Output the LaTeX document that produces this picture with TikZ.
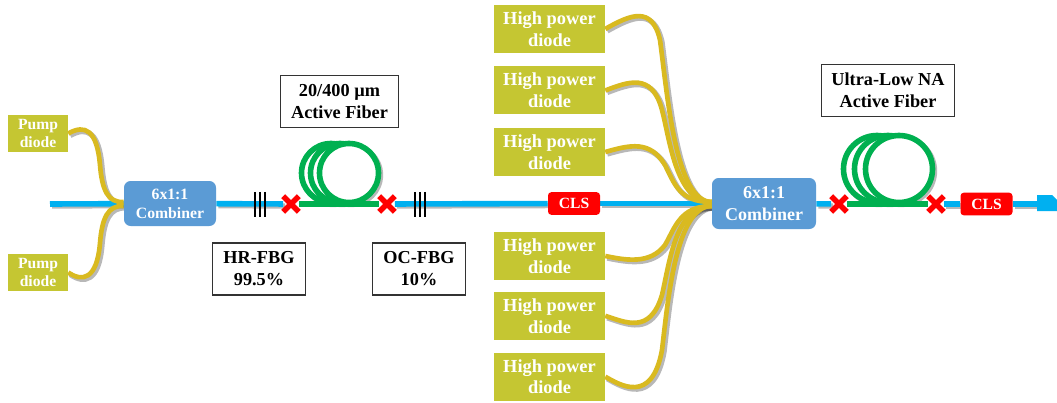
\documentclass[tikz,border=0pt]{standalone}
\usepackage{fontspec}
\setmainfont{Liberation Serif}
\usetikzlibrary{backgrounds, positioning, shapes.misc}

\definecolor{diodecol}{HTML}{C5C632}
\definecolor{combcol}{HTML}{5B9BD5}
\definecolor{fibercol}{HTML}{00B0F0}
\definecolor{pumpcol}{HTML}{D9BA20}
\definecolor{coilcol}{HTML}{00B050}

\newcommand{\strands}{
  \draw[fiber] (fibin) -- (combA);
  \draw[fiber] (combA) -- (spA);
  \draw[fiber] (spB)   -- (clsA);
  \draw[fiber] (clsA)  -- (combB);
  \draw[fiber] (combB) -- (spC);
  \draw[fiber] (spD)   -- (clsB);
  \draw[fiber] (clsB)  -- (fibout);

  \foreach \cx in {331,340,349}
    \draw[coil] (\cx,173) circle (29.5);
  \foreach \cx in {877,888,899}
    \draw[coil] (\cx,169) circle (33.5);

  \draw[pumpline] (pumpA.east) .. controls (85,124) and (97,130) .. (100,165) .. controls (102,190) and (108,203) .. (mergeAup);
  \draw[pumpline] (pumpB.east) .. controls (82,282) and (97,280) .. (100,243) .. controls (102,218) and (108,205) .. (mergeAlow);

  \draw[pumpline] (hpA.east) .. controls (630,15) and (652,5) .. (660,40) .. controls (668,100) and (676,202) .. (mergeBup);
  \draw[pumpline] (hpB.east) .. controls (628,82) and (652,72) .. (662,110) .. controls (670,140) and (676,202) .. (mergeBup);
  \draw[pumpline] (hpC.east) .. controls (630,145) and (650,140) .. (665,165) .. controls (675,185) and (680,202) .. (mergeBup);
  \draw[pumpline] (hpD.east) .. controls (625,260) and (650,265) .. (665,245) .. controls (675,228) and (680,206) .. (mergeBlow);
  \draw[pumpline] (hpE.east) .. controls (625,322) and (650,335) .. (662,295) .. controls (670,260) and (676,206) .. (mergeBlow);
  \draw[pumpline] (hpF.east) .. controls (620,385) and (652,405) .. (662,350) .. controls (668,300) and (676,206) .. (mergeBlow);
}

\begin{document}
\begin{tikzpicture}[
  x=0.75pt, y=-0.75pt,
  pumpbox/.style  = {fill=diodecol, text=white, minimum width=45pt, minimum height=27.75pt, inner sep=0pt, align=center,
                     font=\bfseries\fontsize{11.7}{14}\selectfont},
  hpbox/.style    = {fill=diodecol, text=white, minimum width=83.25pt, minimum height=36pt, inner sep=0pt, align=center,
                     font=\bfseries\fontsize{13.8}{16.3}\selectfont},
  combiner/.style = {fill=combcol, text=white, rounded corners=5pt, inner sep=0pt, align=center},
  clsbox/.style   = {fill=red, text=white, rounded corners=2.5pt, minimum height=17pt, minimum width=39pt, inner sep=0pt,
                     font=\bfseries\fontsize{11.7}{14}\selectfont},
  labelbox/.style = {draw=black!80, line width=0.8pt, fill=white, inner sep=0pt, align=center,
                     font=\bfseries\fontsize{13.7}{16.5}\selectfont},
  splice/.style   = {cross out, draw=red, line width=4.2pt, minimum size=7.5pt, inner sep=0pt},
  fiber/.style    = {draw=fibercol, line width=4.2pt},
  pumpline/.style = {draw=pumpcol, line width=3.5pt},
  coil/.style     = {draw=coilcol, line width=4.2pt, fill=white},
  shadowline/.style = {draw=black, draw opacity=0.28, line width=4pt, fill=none},
  grating/.style  = {draw=black, line width=1.3pt},
]
  \useasboundingbox (0,0) rectangle (1057,403);

  \coordinate (fibin)  at (50,204);
  \coordinate (fibout) at (1040,204);
  \coordinate (fbgA)   at (260,204.5);
  \coordinate (fbgB)   at (420,204.5);

  \node[pumpbox] (pumpA) at (38,133.5) {Pump\\diode};
  \node[pumpbox] (pumpB) at (38,272.5) {Pump\\diode};

  \node[hpbox] (hpC) at (549.5,152) {High power\\diode};
  \node[hpbox, above=9.75pt of hpC] (hpB) {High power\\diode};
  \node[hpbox, above=9.75pt of hpB] (hpA) {High power\\diode};
  \node[hpbox] (hpD) at (549.5,256) {High power\\diode};
  \node[hpbox, below=8.5pt of hpD]  (hpE) {High power\\diode};
  \node[hpbox, below=9.25pt of hpE] (hpF) {High power\\diode};

  \node[combiner, minimum width=69pt, minimum height=33.75pt, font=\bfseries\fontsize{11.8}{14.4}\selectfont]
    (combA) at (170,203.5) {6x1:1\\Combiner};
  \node[combiner, minimum width=78pt, minimum height=38.25pt, font=\bfseries\fontsize{13.5}{16.3}\selectfont]
    (combB) at (764,203.5) {6x1:1\\Combiner};

  \coordinate (mergeAup)  at (combA.west |- 0,202);
  \coordinate (mergeAlow) at (combA.west |- 0,206);
  \coordinate (mergeBup)  at (combB.west |- 0,202);
  \coordinate (mergeBlow) at (combB.west |- 0,206);

  \node[clsbox] (clsA) at (574,203.5) {CLS};
  \node[clsbox] (clsB) at (986.5,204) {CLS};

  \node[splice] (spA) at (291,204) {};
  \node[splice] (spB) at (387,204) {};
  \node[splice] (spC) at (839,204) {};
  \node[splice] (spD) at (936,204) {};

  \node[labelbox, minimum width=89pt, minimum height=39.5pt]  (lblcoilA) at (339.5,101.5) {20/400 µm\\Active Fiber};
  \node[labelbox, minimum width=100pt, minimum height=38.5pt] (lblcoilB) at (888,90.5)    {Ultra-Low NA\\Active Fiber};
  \node[labelbox, minimum width=70pt, minimum height=39pt]    (lblhr)    at (259,269)     {HR-FBG\\99.5\%};
  \node[labelbox, minimum width=70pt, minimum height=39pt]    (lbloc)    at (419,269)     {OC-FBG\\10\%};

  \begin{pgfonlayer}{background}
    \begin{scope}[transform canvas={xshift=1.5pt, yshift=-1.5pt},
                  fiber/.style={shadowline}, pumpline/.style={shadowline}, coil/.style={shadowline}]
      \strands
    \end{scope}
    \strands

    \fill[fibercol] (1037,195) -- (1052,195) -- (1057,200) -- (1057,211) -- (1037,211) -- cycle;

    \foreach \dx in {-5,0,5} {
      \draw[grating] ([xshift=\dx*0.75pt, yshift=9.4pt]fbgA) -- ([xshift=\dx*0.75pt, yshift=-9.4pt]fbgA);
      \draw[grating] ([xshift=\dx*0.75pt, yshift=9.4pt]fbgB) -- ([xshift=\dx*0.75pt, yshift=-9.4pt]fbgB);
    }

    \draw[coilcol, line width=4.2pt] (spA) -- (spB);
    \draw[coilcol, line width=4.2pt] (spC) -- (spD);
  \end{pgfonlayer}
\end{tikzpicture}
\end{document}
